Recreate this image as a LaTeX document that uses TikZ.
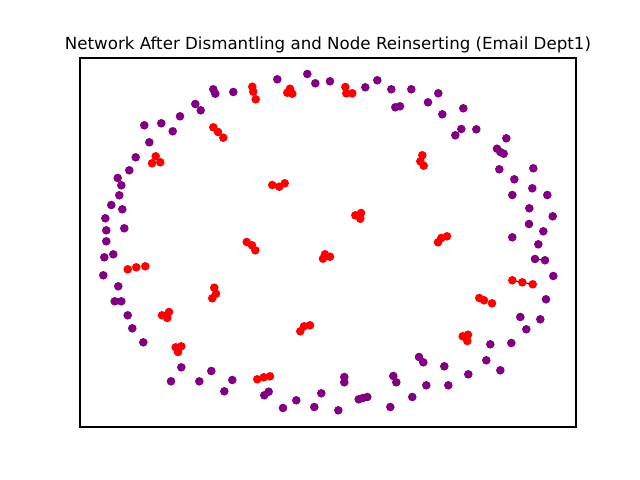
\documentclass[tikz,border=0pt]{standalone}
\usepackage{fontspec}
\setmainfont{DejaVu Sans}
\definecolor{mplpurple}{HTML}{800080}
\definecolor{mplred}{HTML}{FF0000}
\tikzset{
  pdot/.style={fill=mplpurple, draw=none},
  rdot/.style={fill=mplred, draw=none},
  frame/.style={draw=black, line width=0.8pt},
  edge/.style={draw=black, line width=0.7pt}
}
\begin{document}
\begin{tikzpicture}[x=0.72pt, y=-0.72pt]
\useasboundingbox (0,0) rectangle (640,480);
\fill[white] (0,0) rectangle (640,480);
\node[anchor=base, font=\fontsize{12}{14}\selectfont] (title) at (328,49) {Network After Dismantling and Node Reinserting (Email Dept1)};
% tiny visible edges
\draw[edge] (535,259) -- (545,260.3);
\draw[edge] (512.3,280.3) -- (532.7,284.3);
% purple nodes
\foreach \x/\y in {
277.3/79.3, 307.3/74, 315.3/83.3, 330/81.3, 213.3/89.3, 215.3/93.7, 233.3/92,
195.3/104, 200.7/110.3, 180/116.3, 144.3/125.3, 161.3/123.3, 172.7/131.3,
149.3/142.3, 135.7/157.3, 129.3/170.3, 117.7/178, 121.3/185.3, 119.3/195.3,
111.3/205, 122.3/209.3, 105.3/218.3, 124.3/228.3, 106.3/230.3, 106.3/241.3,
365.3/87.3, 377.3/80.3, 391.3/89.3, 411.3/89.3, 395.3/107.3, 400/106.3,
428/102.3, 438.3/93.3, 442.3/114.3, 463.3/108.3, 461.3/129, 455.3/135.3,
476.3/129.3, 506.3/138.3, 497/148.7, 500.3/152, 503.7/153.7, 499.3/169.3,
533.3/168.3, 514.3/179.3, 532.3/188.3, 512.3/195, 547.3/195, 529.3/208.3,
552.7/216.3, 529/224, 543.3/231.3, 512.3/237.3, 538.3/244.3,
104.3/257.3, 113.3/254.3, 103.3/275.3, 118.3/286.3, 114.7/301.3, 121.3/301.3,
127.7/315.3, 132.3/328.3, 143.3/342.3, 181.3/367.3, 171/381.3, 199.3/381.3,
211.3/371, 232.3/380, 224.3/391.3, 268.7/391.7, 264.3/395.3, 283/408,
296.3/400.3, 314.3/407, 321.3/393.3,
535/259, 545/260.3, 553.3/276, 546/299.3, 520.3/317, 540.3/319.3, 526.3/329.3,
511.3/343, 490.3/344.3, 486.3/360.3, 500.3/370.3, 468.3/374.3, 444.3/366.3,
448.3/385.3, 419/357, 423.3/362.3, 426.3/385.3, 412.3/397, 393.3/376,
396.3/382.3, 390.3/407, 344.3/377, 344.3/382.3, 358.7/399.3, 363/398,
367.3/397, 338.3/410.3}
  \fill[pdot] (\x,\y) circle (4.3);
% red nodes
\foreach \x/\y in {
252.3/86.7, 253.3/91.7, 255.7/99.3, 290/88.7, 287.3/92.7, 292.3/93.7,
213.3/127.3, 218/132, 223.3/137.7, 155.7/156.3, 152/163.3, 160.3/162.3,
272.3/185, 279.3/186.7, 284.7/183.3,
345.3/87, 346.3/93.3, 352.3/93.3, 422.3/155.3, 420.3/161.3, 423.7/165.7,
355.3/215.3, 361/213, 360.3/218.7, 447/236.3, 441.3/238, 438/242.3,
246.7/242, 252/245.3, 255.3/250.3, 325/254.3, 323/258.7, 330/256.7,
127.7/269.3, 136.3/267.3, 145.3/266.3, 214.3/287.7, 216/293.7, 212.3/298.3,
162/315.3, 169/312, 167.3/318, 175.7/347.3, 181.3/346.3, 178/352,
300.3/331.3, 304/326.3, 310/325.3, 257.3/379.3, 263.7/377.3, 270/376.3,
512.3/280.3, 522.3/282.3, 532.7/284.3, 479.3/298, 484/300.3, 492/303.3,
462.7/336.3, 468/334.7, 467.3/341}
  \fill[rdot] (\x,\y) circle (4.3);
\draw[frame] (80,58) rectangle (576,427);
\end{tikzpicture}
\end{document}
